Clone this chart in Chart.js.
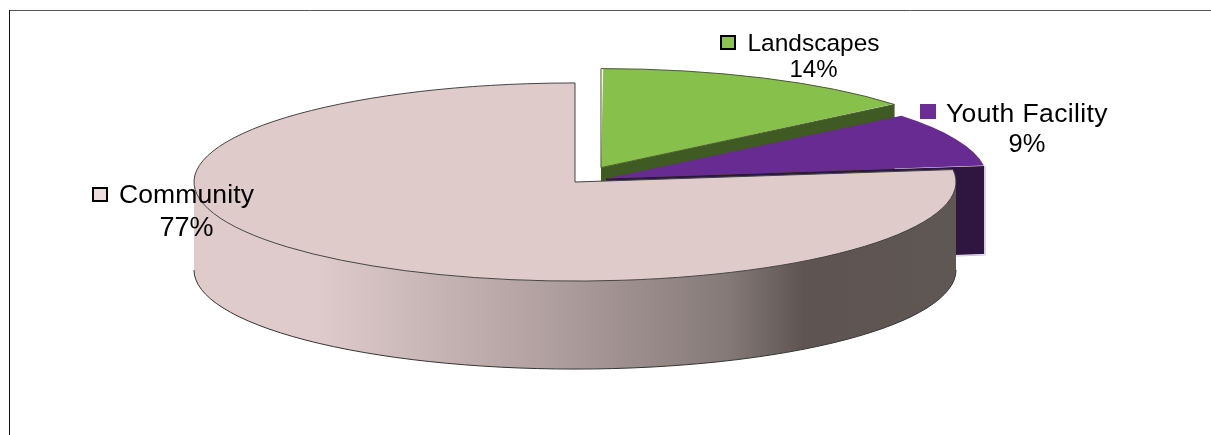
<!DOCTYPE html>
<html>
<head>
<meta charset="utf-8">
<style>
  html, body { margin: 0; padding: 0; background: #fff; }
  canvas { display: block; }
</style>
<script src="https://cdn.jsdelivr.net/npm/chart.js@4/dist/chart.umd.min.js"></script>
</head>
<body>
<canvas id="pie3d" width="1211" height="435"></canvas>
<script>
// values
const categories = ['Landscapes', 'Youth Facility', 'Community'];
const shares = [14, 9, 77];

const topColors = ['#88C04C', '#672B91', '#E0CBCB'];
const wallColors = ['#3F5A22', '#2E1640', null];
const keyColors = ['#8CC350', '#6B2D96', '#EFDDDD'];
const keyBorders = ['#000', '#6B2D96', '#000'];

// look of the tilted pie
const RADIUS = 381;
const SQUASH = 0.26;
const DEPTH = 88;
const CENTER = { x: 575, y: 182 };
const explode = [61, 34, 0];

// text placement for each label, same order as categories
const labelLayout = [
    { cx: 813.5, nameY: 51, nameW: 132, nameSize: 24.5, pctY: 77, pctW: 48, pctSize: 24, key: [720, 35] },
    { cx: 1027, nameY: 122, nameW: 162, nameSize: 26.5, pctY: 152, pctW: 37, pctSize: 25.5, key: [920, 104] },
    { cx: 186.5, nameY: 203, nameW: 135, nameSize: 26.5, pctY: 236, pctW: 54, pctSize: 27, key: [92, 187] }
];

// centre of a slice's apex on the screen, after the explode shift
function apex(el, i) {
    const half = (el.startAngle + el.endAngle) / 2;
    return {
        x: CENTER.x + Math.cos(half) * explode[i],
        y: CENTER.y + Math.sin(half) * explode[i] * SQUASH
    };
}

function rim(c, a) {
    return { x: c.x + Math.cos(a) * RADIUS, y: c.y + Math.sin(a) * RADIUS * SQUASH };
}

function fitText(ctx, text, cx, y, width, size) {
    ctx.font = size + 'px "Liberation Sans", Arial, sans-serif';
    ctx.letterSpacing = '0px';
    const extra = (width - ctx.measureText(text).width) / text.length;
    ctx.letterSpacing = extra.toFixed(2) + 'px';
    ctx.textAlign = 'left';
    ctx.fillText(text, cx - width / 2, y);
    ctx.letterSpacing = '0px';
}

const pie3d = {
    id: 'pie3d',
    afterDatasetsUpdate(chart) {
        // ArcElement grows an offset slice a little, take that back out
        chart.getDatasetMeta(0).data.forEach((el, i) => {
            const fix = 1 - Math.sin(Math.min(Math.PI, el.circumference));
            el.outerRadius = RADIUS - explode[i] * fix;
        });
    },
    beforeDraw(chart) {
        const ctx = chart.ctx;
        ctx.save();
        ctx.lineWidth = 1;
        ctx.strokeStyle = '#555';
        ctx.beginPath();
        ctx.moveTo(9, 10.5);
        ctx.lineTo(1211, 10.5);
        ctx.stroke();
        ctx.strokeStyle = '#111';
        ctx.beginPath();
        ctx.moveTo(9.5, 10);
        ctx.lineTo(9.5, 435);
        ctx.stroke();
        ctx.restore();
    },
    beforeDatasetsDraw(chart) {
        const ctx = chart.ctx;
        const arcs = chart.getDatasetMeta(0).data;

        // walls first, the flat tops are painted over them
        arcs.forEach((el, i) => {
            const c = apex(el, i);
            if (wallColors[i]) {
                const end = rim(c, el.endAngle);
                ctx.beginPath();
                ctx.moveTo(c.x, c.y);
                ctx.lineTo(end.x, end.y);
                ctx.lineTo(end.x, end.y + DEPTH);
                ctx.lineTo(c.x, c.y + DEPTH);
                ctx.closePath();
                ctx.fillStyle = wallColors[i];
                ctx.fill();
                if (i === 1) {
                    ctx.strokeStyle = '#D3C0E6';
                    ctx.lineWidth = 1;
                    ctx.beginPath();
                    ctx.moveTo(end.x + 1, end.y);
                    ctx.lineTo(end.x + 1, end.y + DEPTH + 1);
                    ctx.lineTo(c.x, c.y + DEPTH + 1);
                    ctx.stroke();
                }
            } else {
                const grad = ctx.createLinearGradient(c.x - RADIUS, 0, c.x + RADIUS, 0);
                grad.addColorStop(0, '#E0CBCB');
                grad.addColorStop(0.16, '#DFCBCB');
                grad.addColorStop(0.49, '#AC9C9B');
                grad.addColorStop(0.7, '#857A78');
                grad.addColorStop(0.8, '#5E5451');
                grad.addColorStop(1, '#5F5754');
                ctx.beginPath();
                ctx.ellipse(c.x, c.y, RADIUS, RADIUS * SQUASH, 0, Math.PI, 0, true);
                ctx.lineTo(c.x + RADIUS, c.y + DEPTH);
                ctx.ellipse(c.x, c.y + DEPTH, RADIUS, RADIUS * SQUASH, 0, 0, Math.PI);
                ctx.closePath();
                ctx.fillStyle = grad;
                ctx.fill();
                ctx.beginPath();
                ctx.ellipse(c.x, c.y + DEPTH, RADIUS, RADIUS * SQUASH, 0, 0, Math.PI);
                ctx.strokeStyle = '#333';
                ctx.lineWidth = 1;
                ctx.stroke();
            }
        });

        // flatten the round pie into the tilted disc
        const area = chart.chartArea;
        const cx = (area.left + area.right) / 2;
        const cy = (area.top + area.bottom) / 2;
        ctx.save();
        ctx.setTransform(1, 0, 0, SQUASH, CENTER.x - cx, CENTER.y - cy * SQUASH);
    },
    afterDatasetsDraw(chart) {
        const ctx = chart.ctx;
        ctx.restore();

        const arcs = chart.getDatasetMeta(0).data;
        const outlines = ['#4A5A30', null, '#444'];
        arcs.forEach((el, i) => {
            if (!outlines[i]) return;
            const c = apex(el, i);
            ctx.beginPath();
            ctx.moveTo(c.x, c.y);
            ctx.ellipse(c.x, c.y, RADIUS, RADIUS * SQUASH, 0, el.startAngle, el.endAngle);
            ctx.closePath();
            ctx.strokeStyle = outlines[i];
            ctx.lineWidth = 1;
            ctx.stroke();
        });

        // labels with their small colour keys
        const total = shares.reduce((a, b) => a + b, 0);
        ctx.save();
        ctx.fillStyle = '#000';
        ctx.textBaseline = 'alphabetic';
        categories.forEach((name, i) => {
            const l = labelLayout[i];
            fitText(ctx, name, l.cx, l.nameY, l.nameW, l.nameSize);
            fitText(ctx, Math.round(shares[i] / total * 100) + '%', l.cx, l.pctY, l.pctW, l.pctSize);
            ctx.fillStyle = keyColors[i];
            ctx.fillRect(l.key[0], l.key[1], 16, 15);
            ctx.strokeStyle = keyBorders[i];
            ctx.lineWidth = 2;
            ctx.strokeRect(l.key[0] + 1, l.key[1] + 1, 14, 13);
            ctx.fillStyle = '#000';
        });
        ctx.restore();
    }
};

new Chart(document.getElementById('pie3d'), {
    type: 'pie',
    data: {
        labels: categories,
        datasets: [{
            data: shares,
            backgroundColor: topColors,
            borderWidth: 0,
            offset: explode.map(v => v * 4),
            clip: false
        }]
    },
    options: {
        responsive: false,
        animation: false,
        events: [],
        radius: RADIUS,
        plugins: {
            legend: { display: false },
            tooltip: { enabled: false }
        }
    },
    plugins: [pie3d]
});
</script>
</body>
</html>
